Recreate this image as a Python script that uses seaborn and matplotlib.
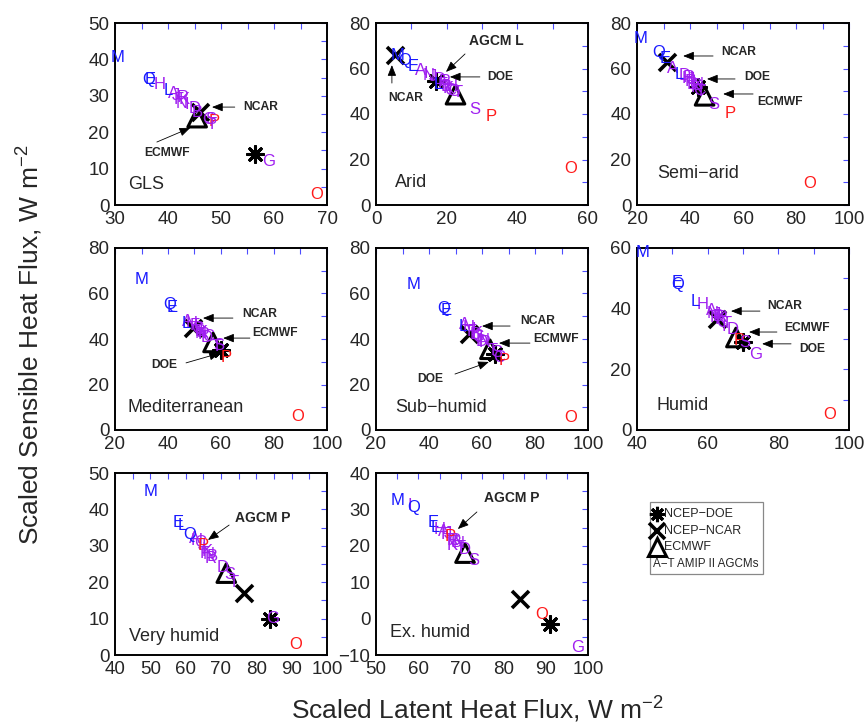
import numpy as np
import pandas as pd
import matplotlib
matplotlib.use("Agg")
import matplotlib.pyplot as plt
from matplotlib.patches import Rectangle
from matplotlib.ticker import MultipleLocator
import seaborn as sns

# ---------------------------------------------------------------------------
# Data: scaled latent (LH) and sensible (SH) heat flux, W m-2
# ---------------------------------------------------------------------------
MODELS = list("ABCDEFGHIJKLMNOPQRST")
MODEL_GROUP = ["p", "p", "p", "p", "b", "p", "p", "p", "p", "p",
               "p", "b", "b", "p", "r", "r", "b", "p", "p", "p"]
REANALYSES = ["NCEP\u2212DOE", "NCEP\u2212NCAR", "ECMWF"]

REGIONS = ["GLS", "Arid", "Semi\u2212arid", "Mediterranean", "Sub\u2212humid",
           "Humid", "Very humid", "Ex. humid"]

lh_gls = [41.0, 45.5, 47.5, 45.0, 36.7, 42.0, 59.0, 38.5, 43.5, 41.5,
          43.0, 40.0, 30.5, 42.5, 68.0, 48.8, 36.3, 42.8, 48.0, 48.3]
sh_gls = [30.5, 25.5, 23.5, 26.5, 34.5, 29.0, 12.0, 33.0, 27.5, 30.0,
          29.0, 31.5, 40.5, 28.0, 3.0, 23.0, 34.5, 29.5, 23.5, 22.0]
rean_lh_gls = [56.5, 46.0, 45.5]
rean_sh_gls = [14.0, 25.5, 24.0]

lh_arid = [12.5, 20.0, 21.0, 18.0, 10.5, 19.0, 22.0, 21.5, 14.0, 16.0,
           20.5, 17.5, 6.0, 15.0, 55.0, 32.5, 8.0, 19.5, 28.0, 23.0]
sh_arid = [59.0, 52.0, 50.5, 55.0, 61.0, 53.0, 50.0, 52.0, 58.0, 56.5,
           51.0, 53.0, 65.5, 57.0, 16.0, 39.0, 63.5, 54.5, 42.0, 49.5]
rean_lh_arid = [17.0, 5.5, 22.5]
rean_sh_arid = [54.5, 66.0, 48.5]

lh_semi = [33.5, 41.0, 43.5, 38.0, 30.5, 40.0, 42.0, 39.0, 41.5, 40.5,
           42.5, 36.0, 21.5, 43.0, 85.0, 55.0, 28.0, 39.5, 49.0, 44.0]
sh_semi = [60.0, 53.0, 50.5, 57.0, 64.5, 54.5, 52.5, 55.5, 54.0, 55.0,
           51.5, 57.5, 73.0, 53.0, 9.5, 40.0, 67.0, 56.0, 44.0, 50.0]
rean_lh_semi = [43.0, 31.5, 45.5]
rean_sh_semi = [52.0, 63.0, 48.0]

lh_med = [47.5, 52.0, 55.0, 54.5, 41.5, 50.0, 51.0, 49.0, 50.5, 51.5,
          53.0, 47.0, 30.0, 52.5, 89.0, 62.0, 40.5, 53.5, 59.0, 58.5]
sh_med = [47.5, 43.5, 41.0, 40.5, 54.0, 46.0, 44.5, 47.0, 45.5, 44.0,
          43.0, 47.0, 66.0, 42.5, 6.0, 32.0, 55.0, 42.0, 37.0, 36.5]
rean_lh_med = [60.0, 49.5, 57.0]
rean_sh_med = [35.0, 45.0, 38.5]

lh_sub = [53.5, 57.5, 66.5, 60.0, 46.5, 56.0, 58.5, 55.0, 57.0, 59.0,
          58.0, 53.0, 34.0, 60.5, 93.5, 68.5, 45.5, 61.0, 65.5, 64.0]
sh_sub = [46.5, 42.0, 32.0, 39.0, 52.5, 43.5, 41.0, 45.0, 44.0, 40.5,
          42.5, 45.5, 64.0, 39.5, 5.5, 30.5, 53.5, 38.5, 34.0, 35.0]
rean_lh_sub = [65.0, 55.0, 63.0]
rean_sh_sub = [33.5, 42.0, 35.5]

lh_hum = [61.0, 63.0, 64.0, 67.0, 51.5, 62.0, 73.5, 58.5, 64.5, 62.5,
          63.5, 56.5, 41.5, 61.5, 94.5, 69.0, 51.5, 64.0, 70.5, 65.5]
sh_hum = [39.5, 37.5, 35.5, 33.0, 48.5, 37.0, 25.0, 41.5, 34.0, 38.0,
          36.5, 42.5, 58.5, 38.5, 5.0, 29.5, 48.0, 37.0, 29.0, 35.0]
rean_lh_hum = [70.0, 62.5, 68.0]
rean_sh_hum = [29.0, 36.5, 30.5]

lh_vhum = [62.5, 67.5, 64.0, 70.5, 58.0, 65.5, 84.5, 63.0, 65.0, 64.5,
           66.0, 59.0, 50.0, 66.5, 91.0, 65.0, 61.0, 67.0, 72.5, 73.5]
sh_vhum = [32.0, 27.0, 31.0, 24.0, 36.5, 28.0, 10.0, 31.5, 29.0, 30.0,
           28.5, 35.5, 45.0, 27.5, 3.0, 30.0, 33.0, 26.5, 22.0, 20.0]
rean_lh_vhum = [84.0, 76.5, 71.5]
rean_sh_vhum = [10.0, 17.0, 22.5]

lh_xhum = [66.0, 69.0, 68.5, 71.0, 63.5, 66.5, 97.5, 65.0, 58.0, 67.0,
           68.0, 64.0, 55.0, 69.5, 89.0, 67.5, 59.0, 68.0, 73.0, 70.0]
sh_xhum = [24.0, 21.0, 21.5, 19.0, 26.5, 23.0, -8.0, 24.5, 31.0, 23.5,
           20.0, 25.0, 32.5, 20.5, 1.0, 22.5, 30.5, 21.5, 16.0, 19.5]
rean_lh_xhum = [91.0, 84.0, 71.0]
rean_sh_xhum = [-1.5, 5.5, 18.0]

# ---------------------------------------------------------------------------
# Styling
# ---------------------------------------------------------------------------
sns.set_theme(style="white")
plt.rcParams["font.family"] = ["Liberation Sans", "DejaVu Sans"]
plt.rcParams["mathtext.fontset"] = "custom"
plt.rcParams["mathtext.rm"] = "Liberation Sans"
plt.rcParams["mathtext.it"] = "Liberation Sans:italic"
plt.rcParams["axes.unicode_minus"] = True

GROUP_COLORS = {"b": "#1a1aff", "p": "#a020f0", "r": "#ff1a1a"}
TICK_BLUE = "#4d4dff"

W, H = 866, 725
fig = plt.figure(figsize=(W / 100, H / 100), dpi=100)

COL_LEFT = [115, 376, 637]
ROW_TOP = [23, 248, 473]
AX_W, AX_H = 212, 182


def make_axes(row, col):
    left = COL_LEFT[col] / W
    bottom = 1 - (ROW_TOP[row] + AX_H) / H
    return fig.add_axes([left, bottom, AX_W / W, AX_H / H])


panels = [
    # region, lh, sh, rean lh, rean sh, xlim, ylim, xstep, ystep, label pos
    (0, lh_gls, sh_gls, rean_lh_gls, rean_sh_gls, (30, 70), (0, 50), 10, 10, (0.061, 0.11)),
    (1, lh_arid, sh_arid, rean_lh_arid, rean_sh_arid, (0, 60), (0, 80), 20, 20, (0.09, 0.126)),
    (2, lh_semi, sh_semi, rean_lh_semi, rean_sh_semi, (20, 100), (0, 80), 20, 20, (0.094, 0.175)),
    (3, lh_med, sh_med, rean_lh_med, rean_sh_med, (20, 100), (0, 80), 20, 20, (0.061, 0.126)),
    (4, lh_sub, sh_sub, rean_lh_sub, rean_sh_sub, (20, 100), (0, 80), 20, 20, (0.09, 0.126)),
    (5, lh_hum, sh_hum, rean_lh_hum, rean_sh_hum, (40, 100), (0, 60), 20, 20, (0.094, 0.137)),
    (6, lh_vhum, sh_vhum, rean_lh_vhum, rean_sh_vhum, (40, 100), (0, 50), 10, 10, (0.066, 0.099)),
    (7, lh_xhum, sh_xhum, rean_lh_xhum, rean_sh_xhum, (50, 100), (-10, 40), 10, 10, (0.066, 0.126)),
]

# arrow annotations: (text, text xy, arrow tail, arrow head, fontsize, ha)
notes = {
    0: [("NCAR", (54.2, 26.9), (52.6, 26.9), (48.3, 26.9), 8.7, "left"),
        ("ECMWF", (39.8, 14.3), (37.9, 17.3), (44.2, 21.2), 8.7, "center")],
    1: [("AGCM L", (26.3, 72.1), (25.2, 66.4), (19.8, 58.5), 10, "left"),
        ("DOE", (31.4, 56.3), (29.4, 56.3), (20.9, 56.3), 8.7, "left"),
        ("NCAR", (8.5, 47.0), (4.5, 53.6), (4.5, 61.5), 8.7, "center")],
    2: [("NCAR", (51.7, 67.3), (48.7, 65.5), (37.4, 65.5), 8.7, "left"),
        ("DOE", (60.4, 56.3), (57.0, 55.4), (46.4, 55.4), 8.7, "left"),
        ("ECMWF", (65.3, 45.3), (63.8, 48.8), (52.5, 48.8), 8.7, "left")],
    3: [("NCAR", (67.9, 51.0), (64.5, 49.2), (53.2, 49.2), 8.7, "left"),
        ("ECMWF", (71.7, 42.6), (70.9, 40.4), (60.8, 40.4), 8.7, "left"),
        ("DOE", (33.6, 28.6), (46.8, 29.5), (59.6, 33.8), 8.7, "left")],
    4: [("NCAR", (74.3, 47.9), (70.6, 45.7), (60.0, 45.7), 8.7, "left"),
        ("ECMWF", (79.2, 40.0), (78.1, 38.2), (66.4, 38.2), 8.7, "left"),
        ("DOE", (35.5, 22.4), (49.8, 24.6), (62.6, 29.9), 8.7, "left")],
    5: [("NCAR", (76.8, 40.9), (74.8, 39.2), (66.6, 39.2), 8.7, "left"),
        ("ECMWF", (81.6, 33.6), (79.6, 32.3), (71.7, 32.3), 8.7, "left"),
        ("DOE", (85.8, 26.7), (83.6, 28.4), (75.4, 28.4), 8.7, "left")],
    6: [("AGCM P", (74.0, 37.6), (72.3, 35.7), (66.3, 31.6), 10, "left")],
    7: [("AGCM P", (75.5, 33.1), (73.8, 29.3), (69.3, 24.6), 10, "left")],
}

# marker styles for the three reanalyses (order follows REANALYSES)
REAN_MARKERS = [(8, 2, 0), "x", "^"]
REAN_SIZES = [130, 150, 180]
REAN_LW = [2.2, 2.6, 2.2]

for idx, lh, sh, rlh, rsh, xlim, ylim, xstep, ystep, lab in panels:
    ax = make_axes(idx // 3, idx % 3)

    models = pd.DataFrame({"model": MODELS, "group": MODEL_GROUP,
                           "lh": lh, "sh": sh})
    rean = pd.DataFrame({"name": REANALYSES, "lh": rlh, "sh": rsh})

    # reanalysis markers
    for k in range(len(REANALYSES)):
        sub = rean.iloc[[k]]
        if REAN_MARKERS[k] == "^":
            sns.scatterplot(data=sub, x="lh", y="sh", ax=ax, marker="^",
                            s=REAN_SIZES[k], facecolor="none",
                            edgecolor="black", linewidth=REAN_LW[k],
                            legend=False, zorder=3)
        else:
            sns.scatterplot(data=sub, x="lh", y="sh", ax=ax,
                            marker=REAN_MARKERS[k], s=REAN_SIZES[k],
                            color="black", linewidth=REAN_LW[k],
                            legend=False, zorder=3)

    # AGCM letters
    for _, r in models.iterrows():
        ax.text(r["lh"], r["sh"], r["model"], color=GROUP_COLORS[r["group"]],
                ha="center", va="center", fontsize=12, zorder=4,
                clip_on=False)

    for text, txy, tail, head, fs, ha in notes.get(idx, []):
        ax.annotate("", xy=head, xytext=tail,
                    arrowprops=dict(arrowstyle="-|>,head_length=0.55,head_width=0.22",
                                    color="black", lw=0.6, shrinkA=0, shrinkB=0),
                    zorder=5)
        ax.text(txy[0], txy[1], text, fontsize=fs, fontweight="bold",
                ha=ha, va="center", zorder=5)

    ax.text(lab[0], lab[1], REGIONS[idx], transform=ax.transAxes,
            fontsize=13, ha="left", va="center")

    ax.set_xlim(*xlim)
    ax.set_ylim(*ylim)
    ax.xaxis.set_major_locator(MultipleLocator(xstep))
    ax.xaxis.set_minor_locator(MultipleLocator(xstep / 2))
    ax.yaxis.set_major_locator(MultipleLocator(ystep))
    ax.yaxis.set_minor_locator(MultipleLocator(ystep / 2))
    ax.tick_params(which="both", direction="in", top=True, right=True,
                   color=TICK_BLUE, width=0.8, length=4, labelsize=13.5,
                   pad=4)
    ax.set_xlabel("")
    ax.set_ylabel("")
    for sp in ax.spines.values():
        sp.set_color("black")
        sp.set_linewidth(1.4)

# key box, laid out in figure pixels
key = fig.add_axes([0, 0, 1, 1], zorder=10)
key.set_xlim(0, W)
key.set_ylim(H, 0)
key.axis("off")
key.add_patch(Rectangle((650, 502), 113, 72, fill=False,
                        edgecolor="#888888", linewidth=0.9))
key_rows = [514, 531, 547]
key_ms = [11, 12, 13]
for k, name in enumerate(REANALYSES):
    if REAN_MARKERS[k] == "^":
        key.plot([657], [key_rows[k]], ls="none", marker="^", ms=key_ms[k],
                 mew=REAN_LW[k], mfc="none", mec="black")
    else:
        key.plot([657], [key_rows[k]], ls="none", marker=REAN_MARKERS[k],
                 ms=key_ms[k], mew=REAN_LW[k], color="black")
    key.text(664, key_rows[k], name, fontsize=9, ha="left", va="center")
key.text(653, 564, "A\u2212T AMIP II AGCMs", fontsize=8.4, ha="left",
         va="center")

fig.text(30 / W, 1 - 345 / H, "Scaled Sensible Heat Flux, W m$^{-2}$",
         rotation=90, ha="center", va="center", fontsize=19)
fig.text(477 / W, 1 - 710 / H, "Scaled Latent Heat Flux, W m$^{-2}$",
         ha="center", va="center", fontsize=19)

fig.savefig("out.png", dpi=100)
